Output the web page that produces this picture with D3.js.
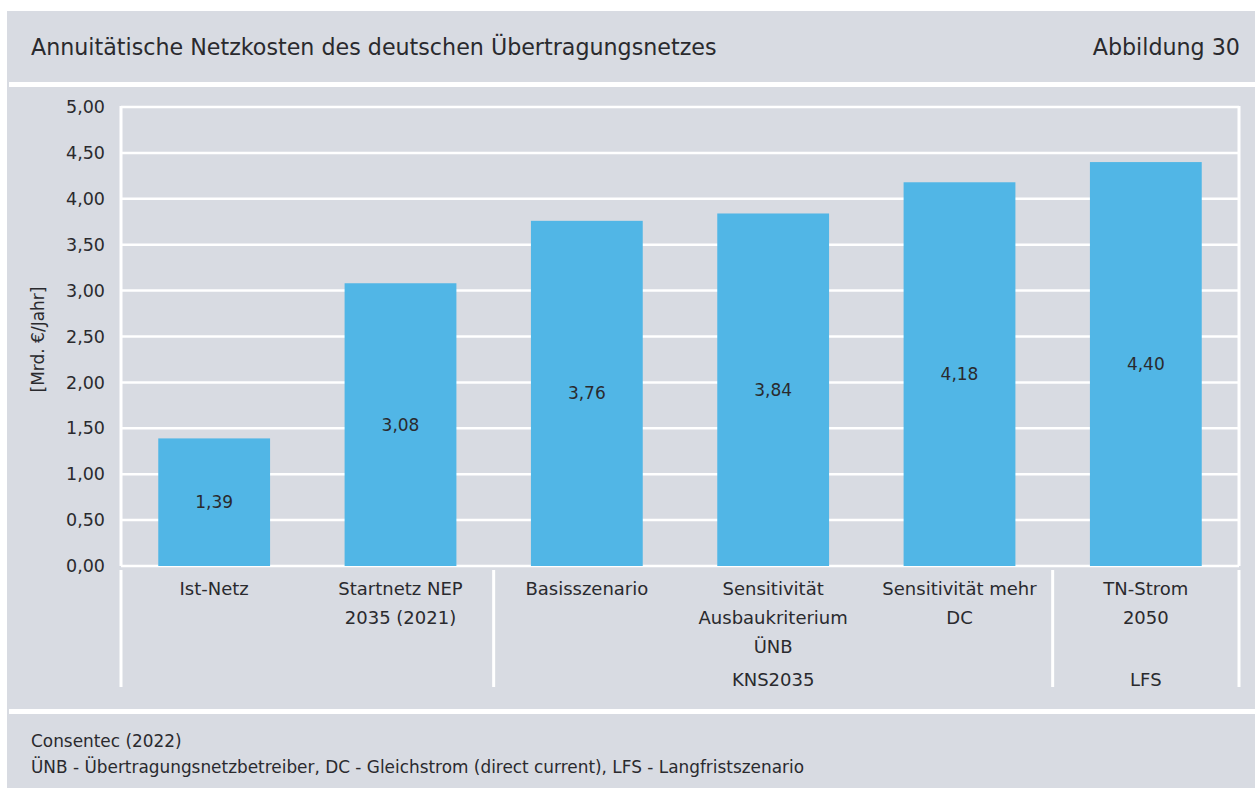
<!DOCTYPE html>
<html lang="de">
<head>
<meta charset="utf-8">
<title>Annuitätische Netzkosten des deutschen Übertragungsnetzes</title>
<script src="https://cdn.jsdelivr.net/npm/d3@7"></script>
<style>
  html, body { margin: 0; padding: 0; background: #ffffff; }
  svg { display: block; }
  text { font-family: "DejaVu Sans", "Open Sans", sans-serif; fill: #2a2a2e; }
</style>
</head>
<body>
<svg id="chart" width="1255" height="788"></svg>
<script>
// Chart data
const categories = [
  ["Ist-Netz"],
  ["Startnetz NEP", "2035 (2021)"],
  ["Basisszenario"],
  ["Sensitivität", "Ausbaukriterium", "ÜNB"],
  ["Sensitivität mehr", "DC"],
  ["TN-Strom", "2050"]
];
const values = [1.39, 3.08, 3.76, 3.84, 4.18, 4.40];
const yTicks = [0, 0.5, 1, 1.5, 2, 2.5, 3, 3.5, 4, 4.5, 5];
// Category groups: label, first and last category index
const groups = [
  { label: "", from: 0, to: 1 },
  { label: "KNS2035", from: 2, to: 4 },
  { label: "LFS", from: 5, to: 5 }
];
const title = "Annuitätische Netzkosten des deutschen Übertragungsnetzes";
const figureLabel = "Abbildung 30";
const yAxisTitle = "[Mrd. €/Jahr]";
const footnotes = [
  "Consentec (2022)",
  "ÜNB - Übertragungsnetzbetreiber, DC - Gleichstrom (direct current), LFS - Langfristszenario"
];

const BG = "#d8dbe2";
const BAR = "#51b6e6";
const WHITE = "#ffffff";
const FONT = "\"DejaVu Sans\", \"Open Sans\", sans-serif";
const fmt = v => d3.format(".2f")(v).replace(".", ",");

const svg = d3.select("#chart");

// Panel background and separators
svg.append("rect").attr("x", 7).attr("y", 11).attr("width", 1248).attr("height", 777).attr("fill", BG);
svg.append("rect").attr("x", 9).attr("y", 82).attr("width", 1246).attr("height", 5).attr("fill", WHITE);
svg.append("rect").attr("x", 9).attr("y", 709).attr("width", 1246).attr("height", 5).attr("fill", WHITE);

// Header
svg.append("text").attr("x", 31).attr("y", 55).attr("font-size", 22.2).text(title);
svg.append("text").attr("x", 1240).attr("y", 55).attr("font-size", 22.2)
  .attr("text-anchor", "end").text(figureLabel);

// Plot area
const plot = { left: 121, right: 1239, top: 107, bottom: 566 };

const x = d3.scaleBand()
  .domain(d3.range(categories.length))
  .range([plot.left, plot.right])
  .paddingInner(0.4)
  .paddingOuter(0.2);

const y = d3.scaleLinear().domain([0, 5]).range([plot.bottom, plot.top]);

// Horizontal gridlines
const g = svg.append("g");
g.selectAll("line.grid").data(yTicks).join("line")
  .attr("class", "grid")
  .attr("x1", plot.left).attr("x2", plot.right)
  .attr("y1", d => y(d)).attr("y2", d => y(d))
  .attr("stroke", WHITE).attr("stroke-width", 2.5);

// Plot frame sides
[plot.left, plot.right].forEach(px => {
  g.append("line")
    .attr("x1", px).attr("x2", px)
    .attr("y1", plot.top - 1).attr("y2", plot.bottom)
    .attr("stroke", WHITE).attr("stroke-width", 3);
});

// Y axis labels
const yAxis = d3.axisLeft(y).tickValues(yTicks).tickFormat(fmt).tickSize(0).tickPadding(16);
const ya = svg.append("g").attr("transform", `translate(${plot.left},0)`).call(yAxis);
ya.select(".domain").remove();
ya.selectAll("text").attr("font-size", 17.5).attr("fill", "#2a2a2e")
  .attr("font-family", FONT);

// Y axis title
svg.append("text")
  .attr("transform", `translate(44,${(plot.top + plot.bottom) / 2 + 3}) rotate(-90)`)
  .attr("text-anchor", "middle").attr("font-size", 17).text(yAxisTitle);

// Bars
svg.selectAll("rect.bar").data(values).join("rect")
  .attr("class", "bar")
  .attr("x", (d, i) => x(i))
  .attr("width", x.bandwidth())
  .attr("y", d => y(d))
  .attr("height", d => y(0) - y(d))
  .attr("fill", BAR);

// Value labels centred in each bar
svg.selectAll("text.val").data(values).join("text")
  .attr("class", "val")
  .attr("x", (d, i) => x(i) + x.bandwidth() / 2)
  .attr("y", d => (y(d) + y(0)) / 2)
  .attr("dy", "0.35em")
  .attr("text-anchor", "middle").attr("font-size", 17)
  .text(d => fmt(d));

// Category labels
const step = x.step();
const bandLeft = i => plot.left + step * i;
categories.forEach((lines, i) => {
  const t = svg.append("text")
    .attr("x", x(i) + x.bandwidth() / 2)
    .attr("y", 595)
    .attr("text-anchor", "middle").attr("font-size", 18);
  lines.forEach((ln, k) => {
    t.append("tspan").attr("x", x(i) + x.bandwidth() / 2)
      .attr("dy", k === 0 ? 0 : 29).text(ln);
  });
});

// Group dividers below the axis
const dividerX = [plot.left];
groups.forEach(gr => dividerX.push(bandLeft(gr.to + 1)));
svg.selectAll("line.div").data(dividerX).join("line")
  .attr("class", "div")
  .attr("x1", d => d).attr("x2", d => d)
  .attr("y1", plot.bottom + 4).attr("y2", 687)
  .attr("stroke", WHITE).attr("stroke-width", 3);

// Group labels
groups.filter(gr => gr.label).forEach(gr => {
  svg.append("text")
    .attr("x", (bandLeft(gr.from) + bandLeft(gr.to + 1)) / 2)
    .attr("y", 686)
    .attr("text-anchor", "middle").attr("font-size", 18)
    .text(gr.label);
});

// Footnotes
footnotes.forEach((ln, k) => {
  svg.append("text").attr("x", 31).attr("y", 747 + k * 26)
    .attr("font-size", 16.9).text(ln);
});
</script>
</body>
</html>
